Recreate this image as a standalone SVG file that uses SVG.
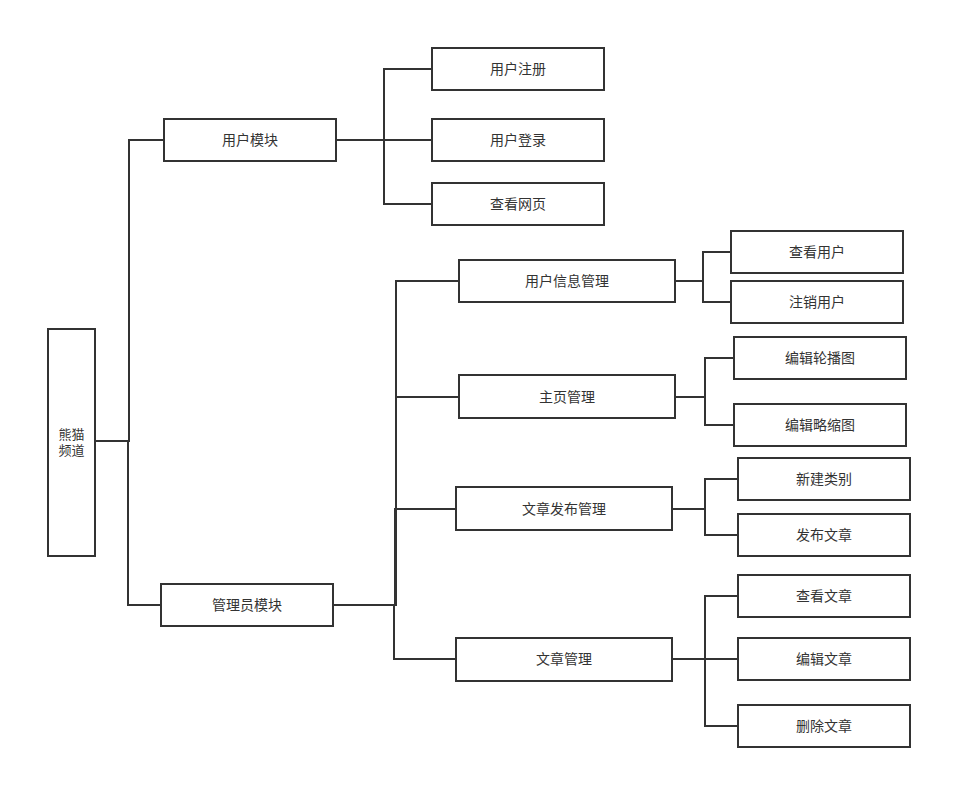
<svg xmlns="http://www.w3.org/2000/svg" width="973" height="809" viewBox="0 0 973 809">
<style>
.box{fill:#fff;stroke:#333;stroke-width:2}
.lbl{font-family:"Liberation Sans","Noto Sans CJK SC",sans-serif;font-size:14px;fill:#333;text-anchor:middle;dominant-baseline:central}
.c{fill:none;stroke:#333;stroke-width:2}
</style>
<rect width="973" height="809" fill="#fff"/>
<g id="connectors">
<path class="c" d="M95,441 H129 V140 H164"/>
<path class="c" d="M95,441 H128 V605 H161"/>
<path class="c" d="M336,140 H384 V69 H432"/>
<path class="c" d="M336,140 H432"/>
<path class="c" d="M384,140 V204 H432"/>
<path class="c" d="M333,605 H396 V281 H459"/>
<path class="c" d="M396,397 H459"/>
<path class="c" d="M333,605 H395 V509 H456"/>
<path class="c" d="M333,605 H394 V659 H456"/>
<path class="c" d="M675,281 H703 V252 H731"/>
<path class="c" d="M703,281 V302 H731"/>
<path class="c" d="M675,397 H705 V358 H734"/>
<path class="c" d="M705,397 V425 H734"/>
<path class="c" d="M672,509 H705 V479 H738"/>
<path class="c" d="M705,509 V535 H738"/>
<path class="c" d="M672,659 H738"/>
<path class="c" d="M705,659 V596 H738"/>
<path class="c" d="M705,659 V726 H738"/>
</g>
<g id="root"><rect class="box" x="48" y="329" width="47" height="227"/><text class="lbl" x="71.5" y="434" style="font-size:13px">熊猫</text><text class="lbl" x="71.5" y="450" style="font-size:13px">频道</text></g>
<g id="user"><rect class="box" x="164" y="119" width="172" height="42"/><text class="lbl" x="250" y="140">用户模块</text></g>
<g id="admin"><rect class="box" x="161" y="584" width="172" height="42"/><text class="lbl" x="247" y="605">管理员模块</text></g>
<g id="register"><rect class="box" x="432" y="48" width="172" height="42"/><text class="lbl" x="518" y="69">用户注册</text></g>
<g id="login"><rect class="box" x="432" y="119" width="172" height="42"/><text class="lbl" x="518" y="140">用户登录</text></g>
<g id="browse"><rect class="box" x="432" y="183" width="172" height="42"/><text class="lbl" x="518" y="204">查看网页</text></g>
<g id="userinfo"><rect class="box" x="459" y="260" width="216" height="42"/><text class="lbl" x="567" y="281">用户信息管理</text></g>
<g id="home"><rect class="box" x="459" y="375" width="216" height="43"/><text class="lbl" x="567" y="397">主页管理</text></g>
<g id="publish"><rect class="box" x="456" y="487" width="216" height="43"/><text class="lbl" x="564" y="509">文章发布管理</text></g>
<g id="articles"><rect class="box" x="456" y="638" width="216" height="43"/><text class="lbl" x="564" y="659">文章管理</text></g>
<g id="viewuser"><rect class="box" x="731" y="231" width="172" height="42"/><text class="lbl" x="817" y="252">查看用户</text></g>
<g id="deluser"><rect class="box" x="731" y="281" width="172" height="42"/><text class="lbl" x="817" y="302">注销用户</text></g>
<g id="carousel"><rect class="box" x="734" y="337" width="172" height="42"/><text class="lbl" x="820" y="358">编辑轮播图</text></g>
<g id="thumb"><rect class="box" x="734" y="404" width="172" height="42"/><text class="lbl" x="820" y="425">编辑略缩图</text></g>
<g id="newcat"><rect class="box" x="738" y="458" width="172" height="42"/><text class="lbl" x="824" y="479">新建类别</text></g>
<g id="postart"><rect class="box" x="738" y="514" width="172" height="42"/><text class="lbl" x="824" y="535">发布文章</text></g>
<g id="viewart"><rect class="box" x="738" y="575" width="172" height="42"/><text class="lbl" x="824" y="596">查看文章</text></g>
<g id="editart"><rect class="box" x="738" y="638" width="172" height="42"/><text class="lbl" x="824" y="659">编辑文章</text></g>
<g id="delart"><rect class="box" x="738" y="705" width="172" height="42"/><text class="lbl" x="824" y="726">删除文章</text></g>
</svg>
